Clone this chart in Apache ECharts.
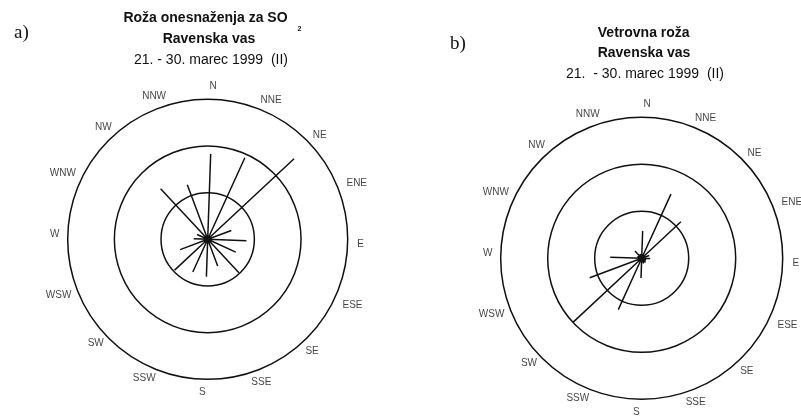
<!DOCTYPE html>
<html>
<head>
<meta charset="utf-8">
<script src="https://cdn.jsdelivr.net/npm/echarts@6/dist/echarts.min.js"></script>
<style>
  html, body { margin: 0; padding: 0; background: #fff; }
  #chart { width: 801px; height: 417px; }
</style>
</head>
<body>
<div id="chart"></div>
<script>
// ---- data ----
const DIRECTIONS = ['N','NNE','NE','ENE','E','ESE','SE','SSE','S','SSW','SW','WSW','W','WNW','NW','NNW'];
// a) SO2 pollution rose (ring units: 1, 2, 3)
const SO2_ROSE  = [1.83, 1.92, 2.53, 0.54, 0.83, 0.66, 0.98, 0.61, 0.80, 0.77, 0.97, 0.63, 0.30, 0.25, 1.48, 1.25];
// b) wind rose
const WIND_ROSE = [0.58, 1.50, 1.14, 0.17, 0.18, 0.10, 0.12, 0.12, 0.42, 1.20, 2.00, 1.18, 0.67, 0.10, 0.21, 0.10];
const RING_TICKS = [1, 2, 3];

const TITLE_A = ['Roža onesnaženja za SO', 'Ravenska vas', '21. - 30. marec 1999  (II)'];
const TITLE_B = ['Vetrovna roža', 'Ravenska vas', '21.  - 30. marec 1999  (II)'];

// ---- build ----
const INK = '#111';
const STEP = 360 / DIRECTIONS.length;
const SANS = '"Liberation Sans", Arial, sans-serif';
const SERIF = '"Liberation Serif", "Times New Roman", serif';

function spokeData(values) {
  const d = [];
  values.forEach((v, i) => { const a = i * STEP; d.push([0, a], [v, a]); });
  return d;
}
function labelData() {
  return DIRECTIONS.map((name, i) => {
    const a = i * STEP;
    const s = Math.abs(Math.sin(a * Math.PI / 180));
    const r = 3.28 + (name.length === 3 && s > 0.9 ? 0.13 : 0);
    return { name: name, value: [r, a] };
  });
}

const polars = [
  { center: [207.7, 239.3], radius: 140 },
  { center: [641.7, 258.3], radius: 141 }
];

const angleAxes = polars.map((p, i) => ({
  polarIndex: i, type: 'value', min: 0, max: 360, interval: STEP,
  startAngle: 88, clockwise: true,
  axisLine: { show: false }, axisTick: { show: false },
  axisLabel: { show: false }, splitLine: { show: false }
}));
const radiusAxes = polars.map((p, i) => ({
  polarIndex: i, type: 'value', min: 0, max: RING_TICKS[RING_TICKS.length - 1], interval: 1,
  axisLine: { show: false }, axisTick: { show: false }, axisLabel: { show: false },
  splitLine: { show: true, lineStyle: { color: INK, width: 1.5 } }
}));

const series = [];
[SO2_ROSE, WIND_ROSE].forEach((vals, i) => {
  series.push({
    type: 'line', coordinateSystem: 'polar', polarIndex: i,
    data: spokeData(vals), symbol: 'none', showSymbol: false, clip: false,
    lineStyle: { color: INK, width: 1.5 }, silent: true
  });
  series.push({
    type: 'scatter', coordinateSystem: 'polar', polarIndex: i,
    data: [[0, 0]], symbol: 'circle', symbolSize: 7, clip: false,
    itemStyle: { color: '#222' }, silent: true
  });
  series.push({
    type: 'scatter', coordinateSystem: 'polar', polarIndex: i,
    data: labelData(), symbolSize: 1, clip: false,
    itemStyle: { color: 'rgba(0,0,0,0)' }, silent: true,
    label: { show: true, position: 'inside', formatter: '{b}', color: INK,
             fontFamily: SANS, fontSize: 10 }
  });
});

function t(text, x, y, style, align) {
  return {
    text: text, left: x, top: y, padding: 0,
    textAlign: align || 'center', textVerticalAlign: 'middle',
    textStyle: Object.assign({ color: INK, fontFamily: SANS, fontSize: 14, fontWeight: 'bold' }, style || {})
  };
}

const titles = [
  t('a)', 14, 33, { fontFamily: SERIF, fontSize: 19, fontWeight: 'normal' }, 'left'),
  t(TITLE_A[0], 205.5, 18.5),
  t('2', 297.5, 29, { fontSize: 7 }, 'left'),
  t(TITLE_A[1], 209, 39),
  t(TITLE_A[2], 211, 60, { fontWeight: 'normal' }),
  t('b)', 450, 44, { fontFamily: SERIF, fontSize: 19, fontWeight: 'normal' }, 'left'),
  t(TITLE_B[0], 643.7, 33),
  t(TITLE_B[1], 644, 53),
  t(TITLE_B[2], 645, 74, { fontWeight: 'normal' })
];

const chart = echarts.init(document.getElementById('chart'), null, { renderer: 'canvas' });
chart.setOption({
  animation: false,
  backgroundColor: '#fff',
  title: titles,
  polar: polars,
  angleAxis: angleAxes,
  radiusAxis: radiusAxes,
  series: series
});
</script>
</body>
</html>
